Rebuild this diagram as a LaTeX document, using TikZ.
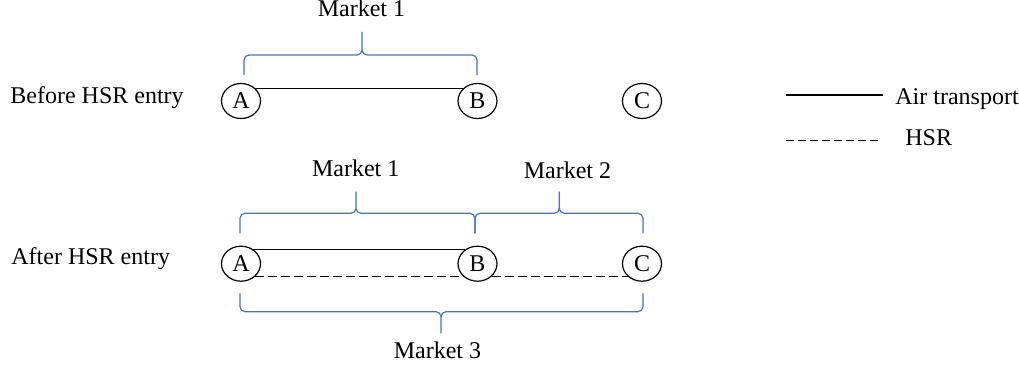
\documentclass[tikz,border=0pt]{standalone}
\usepackage{fontspec}
\setmainfont{Liberation Serif}
\usetikzlibrary{shapes.geometric}
\definecolor{bracecol}{HTML}{4472C4}

\begin{document}
\begin{tikzpicture}[x=0.5pt, y=-0.5pt,
        font=\fontsize{12}{14}\selectfont,
        city/.style={draw, ellipse, line width=0.6pt, fill=white, inner sep=0pt,
            minimum width=19.5pt, minimum height=17.5pt},
        label/.style={inner sep=0pt},
        mbrace/.style={draw=bracecol, line width=0.6pt, rounded corners=2.5pt},
        air/.style={line width=0.6pt},
        hsr/.style={line width=0.6pt, dash pattern=on 4.5pt off 2pt}]
                \useasboundingbox (0, 0) rectangle (1019, 369);

                % before HSR entry
                \node[label, anchor=base west] (before) at (10, 103.3) { Before HSR entry };
                \node[city] (A1) at (241, 101) { A };
                \node[city] (B1) at (477.5, 101) { B };
                \node[city] (C1) at (642, 101) { C };
                \draw[air] (A1.42) -- (B1.138);

                \draw[mbrace] (244, 75) -- (244, 55) -- (362, 55) -- (362, 32)
                    (477, 75) -- (477, 55) -- (362, 55) -- (362, 32);
                \node[label, anchor=base] (m1top) at (361.5, 16.7) { Market 1 };

                % legend
                \coordinate (L1) at (786, 95);
                \coordinate (L2) at (883, 95);
                \coordinate (L3) at (786, 140.7);
                \coordinate (L4) at (880, 140.7);
                \draw[air] (L1) -- (L2);
                \draw[hsr, dash pattern=on 4pt off 2pt] (L3) -- (L4);
                \node[label, anchor=base west] (airtxt) at (895, 104.3) { Air transport };
                \node[label, anchor=base west] (hsrtxt) at (905, 146) { HSR };

                % after HSR entry
                \node[label, anchor=base west] (after) at (11, 264) { After HSR entry };
                \node[city] (A2) at (241, 263.7) { A };
                \node[city] (B2) at (477.5, 263.7) { B };
                \node[city] (C2) at (642, 263.7) { C };
                \draw[air] (A2.50) -- (B2.130);
                \draw[hsr] (A2.-42) -- (B2.-138);
                \draw[hsr] (B2.-42) -- (C2.-138);

                \draw[mbrace] (240, 233.3) -- (240, 213.3) -- (356, 213.3) -- (356, 191.7)
                    (475, 233.3) -- (475, 213.3) -- (356, 213.3) -- (356, 191.7);
                \draw[mbrace] (475, 233.3) -- (475, 213.3) -- (559.3, 213.3) -- (559.3, 191.7)
                    (643, 233.3) -- (643, 213.3) -- (559.3, 213.3) -- (559.3, 191.7);
                \draw[mbrace] (240, 293.3) -- (240, 311.7) -- (441, 311.7) -- (441, 333.3)
                    (643, 293.3) -- (643, 311.7) -- (441, 311.7) -- (441, 333.3);
                \node[label, anchor=base] (m1) at (355.7, 176.7) { Market 1 };
                \node[label, anchor=base] (m2) at (567.5, 178.3) { Market 2 };
                \node[label, anchor=base] (m3) at (437.5, 358.3) { Market 3 };
            \end{tikzpicture}
\end{document}
